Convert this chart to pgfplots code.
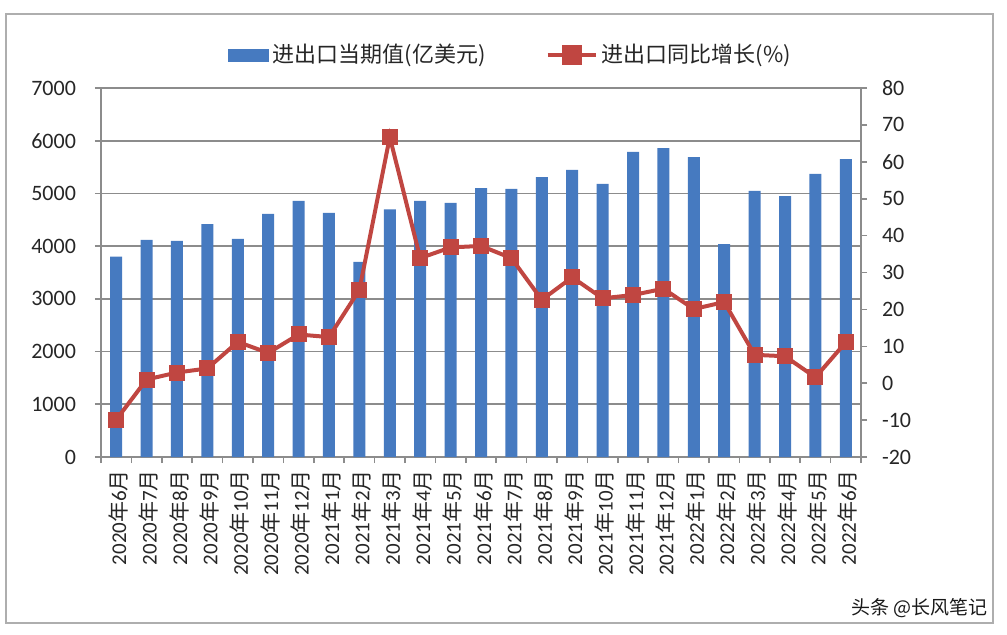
\documentclass[border=0pt]{standalone}
\usepackage{fontspec}
\setmainfont{Carlito}
\newfontfamily\cjk{Noto Sans CJK SC}
\usepackage{pgfplots}
\pgfplotsset{compat=1.18}
\definecolor{barBlue}{RGB}{70,122,192}
\definecolor{lineRed}{RGB}{192,70,65}
\definecolor{gridGray}{RGB}{140,140,140}
\newcommand{\ym}[2]{#1{\cjk 年}#2{\cjk 月}}

\begin{document}
\begin{tikzpicture}[x=1pt,y=1pt]
  % outer frame
  \draw[gridGray!70, line width=0.8pt] (3,5.5) rectangle (496.5,310);
  \path[use as bounding box] (0,0) rectangle (503.5,317);

  \begin{axis}[
      at={(50.5pt,88.5pt)}, anchor=south west,
      width=380pt, height=184.5pt, scale only axis,
      xmin=-0.5, xmax=24.5,
      ymin=0, ymax=7000,
      ytick={0,1000,...,7000},
      xtick={0,...,24},
      xticklabels={\ym{2020}{6},\ym{2020}{7},\ym{2020}{8},\ym{2020}{9},\ym{2020}{10},\ym{2020}{11},\ym{2020}{12},
        \ym{2021}{1},\ym{2021}{2},\ym{2021}{3},\ym{2021}{4},\ym{2021}{5},\ym{2021}{6},\ym{2021}{7},\ym{2021}{8},
        \ym{2021}{9},\ym{2021}{10},\ym{2021}{11},\ym{2021}{12},\ym{2022}{1},\ym{2022}{2},\ym{2022}{3},\ym{2022}{4},
        \ym{2022}{5},\ym{2022}{6}},
      minor xtick={-0.5,0.5,...,24.5},
      major x tick style={draw=none},
      minor tick length=3pt,
      major tick length=3pt,
      tick align=outside,
      axis x line*=bottom, axis y line*=left,
      axis line style={gridGray, line width=0.8pt},
      every tick/.style={gridGray, line width=0.8pt},
      ymajorgrids, grid style={gridGray, line width=0.8pt},
      xticklabel style={rotate=90, anchor=east, font=\fontsize{10.5}{12}\selectfont, text=black!85, yshift=-1pt},
      yticklabel style={font=\fontsize{11}{13}\selectfont, text=black!85, xshift=-6pt},
      /pgf/number format/assume math mode=true,
      /pgf/number format/set thousands separator={},
      scaled ticks=false,
    ]
    \addplot[ybar, bar width=6pt, bar shift=0pt, fill=barBlue, draw=none] coordinates {
      (0,3800) (1,4120) (2,4100) (3,4420) (4,4140) (5,4610) (6,4860)
      (7,4630) (8,3700) (9,4700) (10,4860) (11,4820) (12,5100) (13,5085)
      (14,5310) (15,5445) (16,5180) (17,5790) (18,5860) (19,5690) (20,4040)
      (21,5050) (22,4950) (23,5370) (24,5650)
    };
  \end{axis}

  \begin{axis}[
      at={(50.5pt,88.5pt)}, anchor=south west,
      width=380pt, height=184.5pt, scale only axis,
      xmin=-0.5, xmax=24.5,
      ymin=-20, ymax=80,
      ytick={-20,-10,...,80},
      axis x line=none, axis y line*=right,
      axis line style={gridGray, line width=0.8pt},
      every tick/.style={gridGray, line width=0.8pt},
      tick align=outside, major tick length=3pt,
      yticklabel style={font=\fontsize{11}{13}\selectfont, text=black!85, xshift=4pt},
      /pgf/number format/assume math mode=true,
      legend style={at={(0.54,1.089)}, anchor=center, draw=none, fill=none,
        font=\cjk\fontsize{11}{13}\selectfont, text=black!85,
        legend columns=2,
        /tikz/every even column/.append style={column sep=28pt}},
    ]
    \addlegendimage{legend image code/.code={
        \fill[barBlue] (0pt,-3pt) rectangle (20pt,3pt);}}
    \addlegendentry{进出口当期值(亿美元)}
    \addplot[lineRed, line width=2pt, mark=square*, mark size=3.75pt,
      mark options={fill=lineRed, draw=lineRed, line width=0.5pt},
      legend image code/.code={
        \draw[lineRed, line width=2pt] (0pt,0pt) -- (24pt,0pt);
        \fill[lineRed] (8pt,-4pt) rectangle (16pt,4pt);}]
      coordinates {
      (0,-9.9) (1,1.0) (2,2.9) (3,4.0) (4,11.2) (5,8.2) (6,13.2)
      (7,12.5) (8,25.3) (9,66.7) (10,33.9) (11,36.8) (12,37.2) (13,33.9)
      (14,22.6) (15,28.7) (16,23.0) (17,23.9) (18,25.6) (19,20.1) (20,22.0)
      (21,7.7) (22,7.3) (23,1.6) (24,11.1)
    };
    \addlegendentry{进出口同比增长(\%)}
  \end{axis}

  \node[anchor=east, inner sep=0pt, font=\cjk\fontsize{9.5}{11}\selectfont, text=black!90] at (494,13) {头条\kern2pt@长风笔记};
\end{tikzpicture}
\end{document}
